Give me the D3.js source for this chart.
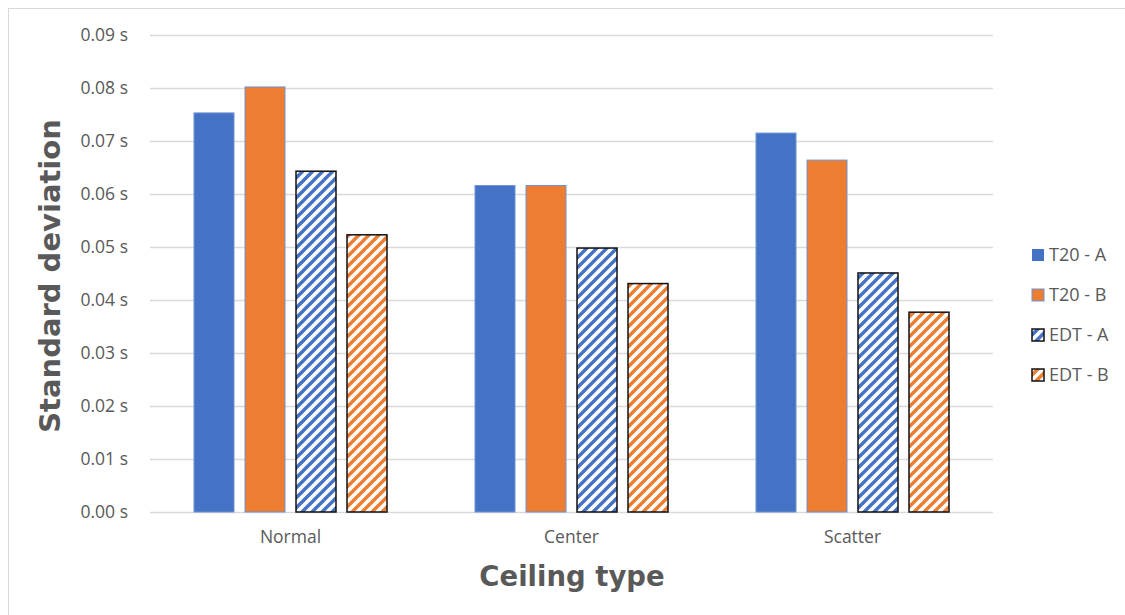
<!DOCTYPE html>
<html>
<head>
<meta charset="utf-8">
<script src="https://cdn.jsdelivr.net/npm/d3@7"></script>
<style>
  html, body { margin: 0; padding: 0; background: #fff; }
  svg { display: block; }
</style>
</head>
<body>
<svg id="chart" width="1125" height="615"></svg>
<script>
// Chart data
const categories = ["Normal", "Center", "Scatter"];
const seriesNames = ["T20 - A", "T20 - B", "EDT - A", "EDT - B"];
const t20A = [0.0753, 0.0616, 0.0715];
const t20B = [0.0802, 0.0616, 0.0664];
const edtA = [0.0643, 0.0498, 0.0451];
const edtB = [0.0523, 0.0431, 0.0377];
const yTicks = [0, 0.01, 0.02, 0.03, 0.04, 0.05, 0.06, 0.07, 0.08, 0.09];

const seriesValues = [t20A, t20B, edtA, edtB];
const blue = "#4472C4", orange = "#ED7D31";

const svg = d3.select("#chart");
const defs = svg.append("defs");

// Diagonal-stripe fills for the EDT series
function stripes(id, color) {
  const s = 10;
  const p = defs.append("pattern")
    .attr("id", id)
    .attr("patternUnits", "userSpaceOnUse")
    .attr("width", s).attr("height", s);
  p.append("rect").attr("width", s).attr("height", s).attr("fill", "#fff");
  p.append("path")
    .attr("d", `M-3,3 L3,-3 M0,${s} L${s},0 M${s - 3},${s + 3} L${s + 3},${s - 3}`)
    .attr("stroke", color).attr("stroke-width", 3.4);
}
stripes("stripeBlue", blue);
stripes("stripeOrange", orange);

const styles = [
  { fill: blue, stroke: "#6F93D6", sw: 1 },
  { fill: orange, stroke: "#6F93D6", sw: 1 },
  { fill: "url(#stripeBlue)", stroke: "#111", sw: 1.5 },
  { fill: "url(#stripeOrange)", stroke: "#111", sw: 1.5 }
];

const labelFont = "'Open Sans', sans-serif";
const titleFont = "'DejaVu Sans', sans-serif";
const textColor = "#595959";

// Outer frame
svg.append("rect")
  .attr("x", 8.5).attr("y", 8.5)
  .attr("width", 1300).attr("height", 700)
  .attr("fill", "none").attr("stroke", "#d9d9d9").attr("stroke-width", 1);

const plotLeft = 150, plotRight = 993, plotTop = 35, plotBottom = 512;

const y = d3.scaleLinear().domain([0, 0.09]).range([plotBottom, plotTop]);

const x0 = d3.scaleBand()
  .domain(categories)
  .range([plotLeft, plotRight])
  .paddingInner(88 / 281)
  .paddingOuter(44 / 281);

const x1 = d3.scaleBand()
  .domain(seriesNames)
  .range([0, x0.bandwidth()])
  .paddingInner(11 / 51);

// Gridlines
svg.append("g")
  .selectAll("line")
  .data(yTicks)
  .join("line")
  .attr("x1", plotLeft).attr("x2", plotRight)
  .attr("y1", d => Math.round(y(d)) + 0.5)
  .attr("y2", d => Math.round(y(d)) + 0.5)
  .attr("stroke", "#d9d9d9").attr("stroke-width", 1.3);

// Y tick labels
const yAxis = d3.axisLeft(y)
  .tickValues(yTicks)
  .tickSize(0)
  .tickPadding(22)
  .tickFormat(d => d3.format(".2f")(d) + " s");
const gy = svg.append("g")
  .attr("transform", `translate(${plotLeft},0)`)
  .call(yAxis);
gy.select(".domain").remove();
gy.selectAll("text")
  .attr("font-family", labelFont)
  .attr("font-size", 17.5)
  .attr("fill", textColor);

// Bars
const groups = svg.append("g")
  .selectAll("g")
  .data(categories)
  .join("g")
  .attr("transform", d => `translate(${x0(d)},0)`);

groups.selectAll("rect")
  .data((c, ci) => seriesNames.map((s, si) => ({ s, si, v: seriesValues[si][ci] })))
  .join("rect")
  .attr("x", d => x1(d.s))
  .attr("y", d => y(d.v))
  .attr("width", x1.bandwidth())
  .attr("height", d => y(0) - y(d.v))
  .attr("fill", d => styles[d.si].fill)
  .attr("stroke", d => styles[d.si].stroke)
  .attr("stroke-width", d => styles[d.si].sw);

// Category labels
const xAxis = d3.axisBottom(x0).tickSize(0).tickPadding(19);
const gx = svg.append("g")
  .attr("transform", `translate(0,${plotBottom})`)
  .call(xAxis);
gx.select(".domain").remove();
gx.selectAll("text")
  .attr("font-family", labelFont)
  .attr("font-size", 17.5)
  .attr("fill", textColor);

// Axis titles
svg.append("text")
  .attr("transform", "translate(60,276) rotate(-90)")
  .attr("text-anchor", "middle")
  .attr("font-family", titleFont)
  .attr("font-weight", "bold")
  .attr("font-size", 29)
  .attr("fill", textColor)
  .text("Standard deviation");

svg.append("text")
  .attr("x", 572)
  .attr("y", 586)
  .attr("text-anchor", "middle")
  .attr("font-family", titleFont)
  .attr("font-weight", "bold")
  .attr("font-size", 27.5)
  .attr("fill", textColor)
  .text("Ceiling type");

// Legend
const legend = svg.append("g")
  .selectAll("g")
  .data(seriesNames)
  .join("g")
  .attr("transform", (d, i) => `translate(1032,${255 + i * 40})`);
legend.append("rect")
  .attr("x", 0).attr("y", -6)
  .attr("width", 12).attr("height", 12)
  .attr("fill", (d, i) => styles[i].fill)
  .attr("stroke", (d, i) => i === 0 ? "none" : styles[i].stroke)
  .attr("stroke-width", (d, i) => styles[i].sw);
legend.append("text")
  .attr("x", 17).attr("y", 0)
  .attr("dy", "0.35em")
  .attr("font-family", labelFont)
  .attr("font-size", 18)
  .attr("fill", textColor)
  .text(d => d);
</script>
</body>
</html>
